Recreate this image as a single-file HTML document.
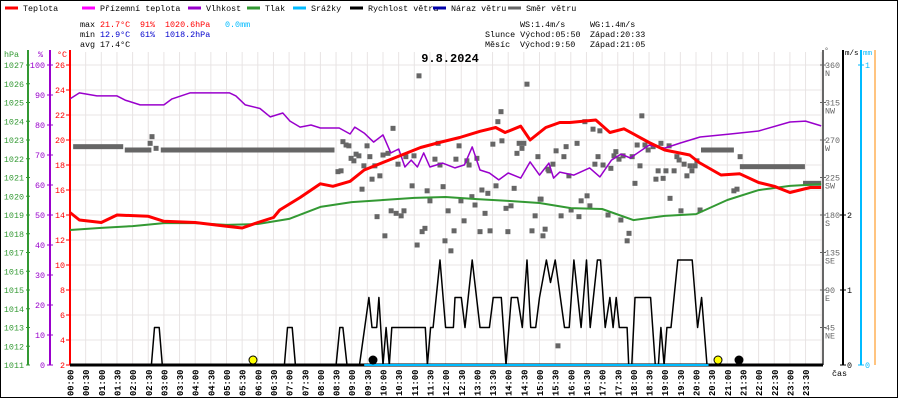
<!DOCTYPE html>
<html><head><meta charset="utf-8"><style>
body{margin:0;background:#fff}
svg{display:block;font-family:"Liberation Mono",monospace}
</style></head><body>
<svg id="c" width="900" height="400" viewBox="0 0 900 400"></svg>
<script>
const tempH=[0,0.3,1,1.5,2.5,3,4,5,5.5,6,6.5,6.7,7.35,8,8.4,8.95,9.4,10.4,11.2,11.8,12.45,13.1,13.6,13.9,14.4,14.7,15.2,15.65,15.97,16.8,17.25,17.7,18.5,19,19.8,20.1,20.8,21.4,22,22.5,23,23.65,24];
const tempV=[14.2,13.6,13.4,14,13.9,13.5,13.4,13.1,12.96,13.4,13.8,14.4,15.4,16.5,16.3,16.7,17.6,18.6,19.4,19.8,20.2,20.7,21,20.6,21.1,20,21,21.4,21.4,21.6,20.6,20.9,19.8,19.2,18.8,18.2,17.2,17.3,16.6,16.3,15.8,16.2,16.2];
const humH=[0,0.3,0.86,1.5,1.76,2.24,3,3.26,3.83,5.1,5.3,5.6,6.07,6.4,6.8,7.03,7.35,7.7,8.0,8.6,8.95,9.1,9.4,9.7,10.0,10.25,10.5,10.7,10.9,11.1,11.3,11.5,11.9,12.3,12.6,12.85,13.1,13.4,13.7,14.0,14.4,14.7,15.0,15.3,15.45,15.65,15.65,16.1,16.6,16.93,17.3,17.6,17.9,18.5,19.0,19.5,20.13,21.1,22.0,23.0,23.5,24];
const humV=[88.7,90.7,89.7,89.7,88.3,86.7,86.7,88.7,90.7,90.7,89.7,86.7,85.5,82.7,84,81.3,79.3,80,79,79,77,79.3,77.3,74.3,76.7,70.7,72,66,68.3,66,70.7,66,67.3,65.7,66.7,72.7,65,64,61.7,64,62.3,67.7,63.3,67.3,62.3,64.3,64.3,63.3,65.7,62.7,68.3,70.3,69,73.3,72.3,74,76,77,78,81,81.3,79.7];
const presH=[0,1,2,3,4,5,6,7,8,9,10,11,12,13,14,15,16,17,18,19,20,21,22,23,24];
const presV=[1018.2,1018.31,1018.41,1018.57,1018.57,1018.47,1018.52,1018.79,1019.43,1019.69,1019.8,1019.91,1019.96,1019.85,1019.75,1019.64,1019.37,1019.32,1018.73,1018.95,1019.05,1019.8,1020.33,1020.55,1020.65];
const windH=[0,2.6,2.7,2.85,2.95,6.85,6.95,7.1,7.2,8.5,8.62,8.72,8.85,9.25,9.55,9.65,9.8,9.87,10.0,10.1,10.2,10.28,11.35,11.42,11.52,11.6,11.82,12.0,12.25,12.3,12.5,12.62,12.85,13.1,13.4,13.52,13.78,13.93,14.1,14.3,14.45,14.6,14.72,14.88,15.0,15.22,15.35,15.5,15.8,15.95,16.1,16.33,16.5,16.62,16.85,16.95,17.1,17.25,17.35,17.45,17.55,17.8,17.85,17.95,18.05,18.55,18.7,18.8,18.88,18.98,19.07,19.2,19.42,19.88,20.05,20.18,20.35,24];
const windV=[0,0,0.5,0.5,0,0,0.5,0.5,0,0,0.5,0.5,0,0,0.9,0.5,0.5,0.9,0,0.5,0,0.5,0.5,0,0.5,0.5,1.4,0.5,0.5,0.9,0.9,0.5,1.4,0.5,0.5,0.9,0.9,0,0.9,0.9,0.5,1.4,0.5,0.5,0.9,1.4,1.1,1.4,0.5,0.5,1.4,0.5,1.4,0.5,1.4,1.4,0.5,0.9,0.5,0.9,0.5,0.5,0,0,0.9,0.9,0,0,0.5,0,0.5,0.5,1.4,1.4,0.5,0.9,0,0];
const dirH=[11.15,14.6,13.77,13.67,10.32,8.72,8.82,8.91,9.49,11.76,12.43,13.51,13.8,14.35,14.5,14.44,14.28,15.53,9.14,9.23,8.98,9.07,9.58,10.16,10,10.73,10.99,11.66,12.33,12.68,12.75,13,14.95,15.43,10.48,9.39,9.74,11.82,8.66,8.56,9.9,9.65,15.27,9.33,10.93,11.41,11.92,13.16,13.35,13.61,14.19,15.02,12.84,12.94,11.5,12.49,14.09,13.93,10.26,10.42,10.67,10.58,12.08,13.26,9.81,14.86,12.59,11.34,11.25,12.27,13.1,13.42,13.99,14.76,15.18,15.11,10.06,11.09,11.98,12.17,16.45,16.71,16.93,16.2,15.85,18.27,18.12,18.37,18.47,18.63,18.88,19.14,16.87,17.44,17.38,17.67,17.96,15.78,16.77,17.03,17.54,18.21,19.39,19.46,19.62,19.81,19.97,20.03,21.41,18.79,19.04,19.3,19.87,15.3,17.28,15.94,18.72,18.95,19.71,18.05,15.05,16.33,16.52,16.61,19.17,21.21,21.31,15.69,16.26,17.19,17.6,19.52,20.13,16.01,17.86,17.8,15.59,2.62,2.56,2.75];
const dirV=[347,337,304,292,284,268,264,263,263,266,263,265,269,266,266,260,254,257,253,251,248,245,250,254,252,250,251,247,247,245,240,248,250,241,241,239,239,240,233,232,227,223,235,211,215,209,214,210,206,215,212,199,202,192,197,197,191,188,185,182,185,179,185,182,178,179,173,164,160,161,160,161,160,161,163,155,155,144,149,137,292,283,281,266,262,299,264,264,258,262,266,263,250,256,251,251,250,250,241,240,247,239,250,246,241,239,239,245,250,233,233,233,233,233,236,227,223,224,227,218,199,197,203,191,200,209,211,179,178,180,174,185,186,186,158,149,23,274,266,260];
const dirBarStart=[0.1,1.75,2.9,20.16,21.4,23.42];
const dirBarEnd=[1.7,2.6,8.45,21.21,23.48,24];
const dirBarV=[262,258,258,258,238,218];
const hpaTicks=[1027,1026,1025,1024,1023,1022,1021,1020,1019,1018,1017,1016,1015,1014,1013,1012,1011];
const pctTicks=[100,90,80,70,60,50,40,30,20,10,0];
const tTicks=[26,24,22,20,18,16,14,12,10,8,6,4,2];
const dirTicks=[360,315,270,225,180,135,90,45];
const dirNames=['N','NW','W','SW','S','SE','E','NE'];
const msTicks=[0,1,2];

const NS='http://www.w3.org/2000/svg';
const svg=document.getElementById('c');
const X0=70,PX=31.3,YB=365,YT=65,FS=8.4;
const xs=h=>X0+h*PX;
const yT=t=>YB-(t-2)*12.5;
const yP=p=>YB-(p-1011)*18.75;
const yH=v=>YB-v*3;
const yD=d=>YB-d*300/360;
const yW=v=>YB-v*75;
function el(tag,at,txt){const e=document.createElementNS(NS,tag);for(const k in at)e.setAttribute(k,at[k]);if(txt!==undefined)e.textContent=txt;svg.appendChild(e);return e;}

const fr=el('rect',{x:0.5,y:0.5,width:897,height:397,fill:'none',stroke:'#000'});


for(let i=0;i<=48;i++){const x=X0+i*PX/2;const g=el('line',{x1:x,y1:52,x2:x,y2:YB,stroke:'#e8e4e4'});

}
for(const t of tTicks){const g=el('line',{x1:X0,y1:yT(t),x2:823,y2:yT(t),stroke:'#e8e4e4'});

}

const leg=[['Teplota','#f00',5],['Přízemní teplota','#f0f',82],['Vlhkost','#90c',188],['Tlak','#393',247],['Srážky','#0bf',293],['Rychlost větru','#000',350],['Náraz větru','#00a',433],['Směr větru','#666',508]];
for(const [n,c,x] of leg){const s=el('line',{x1:x,y1:8,x2:x+13,y2:8,stroke:c,'stroke-width':3});


const t=el('text',{x:x+18,y:11,'font-size':FS},n);

}

function tx(x,y,s,c,name,size,bold){const t=el('text',{x:x,y:y,'font-size':size||FS,fill:c||'#000','font-weight':bold?'bold':'normal'},s);

return t;}
tx(80,27,'max','#000','stat-label');tx(100,27,'21.7°C','#f00','max-temp');tx(140,27,'91%','#f00','max-humidity');tx(165,27,'1020.6hPa','#f00','max-pressure');tx(225,27,'0.0mm','#0bf','rain-total');
tx(80,37,'min','#000','stat-label');tx(100,37,'12.9°C','#00c','min-temp');tx(140,37,'61%','#00c','min-humidity');tx(165,37,'1018.2hPa','#00c','min-pressure');
tx(80,47,'avg','#000','stat-label');tx(100,47,'17.4°C','#000','avg-temp');
tx(520,27,'WS:1.4m/s','#000','wind-speed-max');tx(590,27,'WG:1.4m/s','#000','wind-gust-max');
tx(485,37,'Slunce Východ:05:50','#000','sun-rise');tx(590,37,'Západ:20:33','#000','sun-set');
tx(485,47,'Měsíc','#000','moon-label');tx(520,47,'Východ:9:50','#000','moon-rise');tx(590,47,'Západ:21:05','#000','moon-set');
const ttl=tx(450,62,'9.8.2024','#000','chart-title',12,true);ttl.setAttribute('text-anchor','middle');

function axis(x,y1,c,name){const a=el('line',{x1:x,y1:y1,x2:x,y2:YB,stroke:c,'stroke-width':2});

}
axis(28,50,'#393','pressure-axis');axis(50,50,'#90c','humidity-axis');axis(70,50,'#f00','temperature-axis');
tx(4,57,'hPa','#393','pressure-axis-title');tx(38,57,'%','#90c','humidity-axis-title');tx(57,57,'°C','#f00','temperature-axis-title');
for(const p of hpaTicks){const t=tx(24,yP(p)+3,String(p),'#393','pressure-tick');t.setAttribute('text-anchor','end');
el('line',{x1:26,y1:yP(p),x2:30,y2:yP(p),stroke:'#393'});}
for(const p of pctTicks){const t=tx(45,yH(p)+3,String(p),'#90c','humidity-tick');t.setAttribute('text-anchor','end');
el('line',{x1:47,y1:yH(p),x2:53,y2:yH(p),stroke:'#90c'});}
for(const p of tTicks){const t=tx(65,yT(p)+3,String(p),'#f00','temperature-tick');t.setAttribute('text-anchor','end');
el('line',{x1:66,y1:yT(p),x2:70,y2:yT(p),stroke:'#f00'});}

axis(823,50,'#666','direction-axis');axis(843,50,'#000','wind-axis');axis(861,50,'#0bf','rain-axis');
const oa=el('line',{x1:875,y1:50,x2:875,y2:YB,stroke:'#f80','stroke-width':1});


tx(824,53,'°','#666','direction-axis-title');tx(845,55,'m/s','#000','wind-axis-title',7.5);tx(863,55,'mm','#0bf','rain-axis-title',7.5);
dirTicks.forEach((d,i)=>{tx(825,yD(d)+3,String(d),'#666','direction-tick');tx(825,yD(d)+11,dirNames[i],'#666','direction-name');
el('line',{x1:820,y1:yD(d),x2:826,y2:yD(d),stroke:'#666'});});
for(const m of msTicks){tx(847,yW(m)+3,String(m),'#000','wind-tick');el('line',{x1:840,y1:yW(m),x2:846,y2:yW(m),stroke:'#000'});}
tx(865,YB+3,'0','#0bf','rain-tick');tx(865,YT+3,'1','#0bf','rain-tick');
el('line',{x1:858,y1:YB,x2:864,y2:YB,stroke:'#0bf'});el('line',{x1:858,y1:YT,x2:864,y2:YT,stroke:'#0bf'});

for(let i=0;i<48;i++){const h=Math.floor(i/2),m=i%2?'30':'00';const lab=(h<10?'0':'')+h+':'+m;const x=X0+i*PX/2;
const t=el('text',{x:0,y:0,'font-size':8.8,'font-weight':'bold',transform:`translate(${x+3.5},396) rotate(-90)`},lab);

}
tx(832,376,'čas','#000','x-axis-title');

for(let i=0;i<dirBarStart.length;i++){const b=el('rect',{x:xs(dirBarStart[i]),y:yD(dirBarV[i])-2.5,width:xs(dirBarEnd[i])-xs(dirBarStart[i]),height:5,fill:'#666'});

}
for(let i=0;i<dirH.length;i++){const p=el('rect',{x:xs(dirH[i])-2.5,y:yD(dirV[i])-2.5,width:5,height:5,fill:'#666'});

}

function line(H,V,yf,c,w,name){const pts=H.map((h,i)=>xs(h).toFixed(1)+','+yf(V[i]).toFixed(1)).join(' ');
const l=el('polyline',{points:pts,fill:'none',stroke:c,'stroke-width':w,'stroke-linejoin':'round'});

}
line(presH,presV,yP,'#393',2,'pressure-line');
line(humH,humV,yH,'#90c',1.5,'humidity-line');
line(tempH,tempV,yT,'#f00',3,'temperature-line');
line(windH,windV,yW,'#000',1.5,'wind-speed-line');
const base=el('line',{x1:X0,y1:YB,x2:823,y2:YB,stroke:'#000','stroke-width':3});


const rain=el('line',{x1:xs(9.4),y1:YB,x2:xs(20.4),y2:YB,stroke:'#0bf','stroke-width':2});



function dot(x,f,name){const c=el('circle',{cx:x,cy:360,r:4,fill:f,stroke:'#000'});

}
dot(253,'#ff0','sunrise-marker');dot(373,'#000','moonrise-marker');dot(718,'#ff0','sunset-marker');dot(739,'#000','moonset-marker');
</script>
</body></html>
